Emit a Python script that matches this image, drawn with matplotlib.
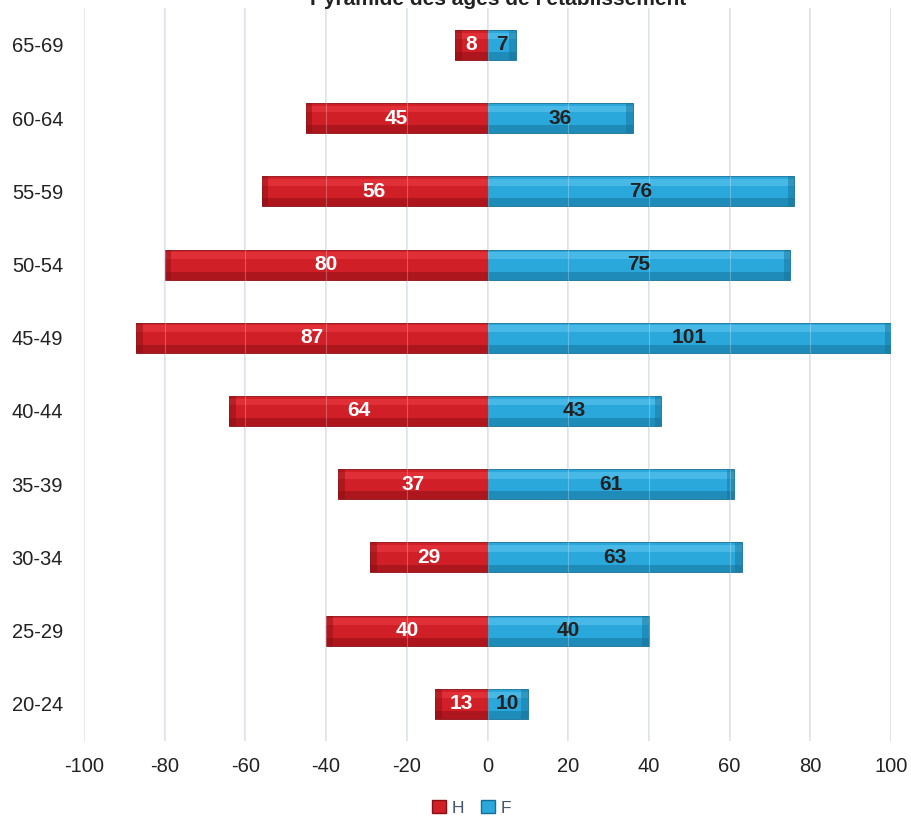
import numpy as np
import matplotlib.pyplot as plt

plt.rcParams['font.family'] = ['Liberation Sans', 'DejaVu Sans']

# age groups, bottom to top
ages = ['20-24', '25-29', '30-34', '35-39', '40-44', '45-49', '50-54', '55-59', '60-64', '65-69']
hommes = [13, 40, 29, 37, 64, 87, 80, 56, 45, 8]
femmes = [10, 40, 63, 61, 43, 101, 75, 76, 36, 7]
xticks = [-100, -80, -60, -40, -20, 0, 20, 40, 60, 80, 100]

red, red_dark, red_light = '#d01f26', '#8a0f14', '#ee3e44'
blue, blue_dark, blue_light = '#2aa8dc', '#136f95', '#62c6ef'

fig = plt.figure(figsize=(9.12, 8.21), dpi=100)
ax = fig.add_axes([0.0921, 0.098, 0.8849, 0.892])

y = np.arange(len(ages))
h = 0.41
left_vals = -np.array(hommes)
right_vals = np.clip(np.array(femmes), None, 100)

def bevel_bar(vals, c, cdark, clight):
    # main body, light top strip, dark bottom strip and shaded outer end
    ax.barh(y, vals, height=h, color=c, edgecolor=cdark, linewidth=0.6, zorder=2)
    ax.barh(y + h * 0.30, vals, height=h * 0.22, color=clight, alpha=0.55, linewidth=0, zorder=3)
    ax.barh(y - h * 0.37, vals, height=h * 0.26, color=cdark, alpha=0.5, linewidth=0, zorder=3)
    cap = np.sign(vals) * 1.6
    ax.barh(y, -cap, left=vals, height=h, color=cdark, alpha=0.45, linewidth=0, zorder=3)

bevel_bar(left_vals, red, red_dark, red_light)
bevel_bar(right_vals, blue, blue_dark, blue_light)

for yi, v in zip(y, hommes):
    ax.text(-v / 2, yi, str(v), ha='center', va='center', color='white',
            fontsize=15, fontweight='bold', zorder=5)
for yi, v in zip(y, femmes):
    ax.text(min(v, 100) / 2, yi, str(v), ha='center', va='center', color='#222222',
            fontsize=15, fontweight='bold', zorder=5)

ax.set_xlim(-100, 100)
ax.set_ylim(-0.5, len(ages) - 0.5)
ax.set_xticks(xticks)
ax.set_xticklabels([str(t) for t in xticks], fontsize=14.5, color='#222222')
ax.set_yticks(y)
ax.set_yticklabels(ages, fontsize=14.5, color='#222222')
ax.tick_params(axis='x', length=0, pad=12)
ax.tick_params(axis='y', length=0, pad=15)

# vertical gridlines, faintly visible over the bars too
for t in xticks:
    ax.axvline(t, color='#d9dbe9', linewidth=1.2, zorder=1)
    ax.axvline(t, color='#ffffff', linewidth=0.8, alpha=0.25, zorder=4)

for s in ax.spines.values():
    s.set_visible(False)

fig.text(0.546, 1 - 5 / 821, "Pyramide des âges de l'établissement", ha='center',
         va='baseline', fontsize=15, fontweight='bold', color='#222222')

# legend
handles = [plt.Rectangle((0, 0), 1, 1, facecolor=red, edgecolor=red_dark),
           plt.Rectangle((0, 0), 1, 1, facecolor=blue, edgecolor=blue_dark)]
leg = fig.legend(handles, ['H', 'F'], loc='center', bbox_to_anchor=(0.517, 1 - 808 / 821),
                 ncol=2, frameon=False, fontsize=12.5, handlelength=0.8, handleheight=0.8,
                 handletextpad=0.3, columnspacing=1.0)
for t in leg.get_texts():
    t.set_color('#44546a')

fig.savefig('out.png', dpi=100)
